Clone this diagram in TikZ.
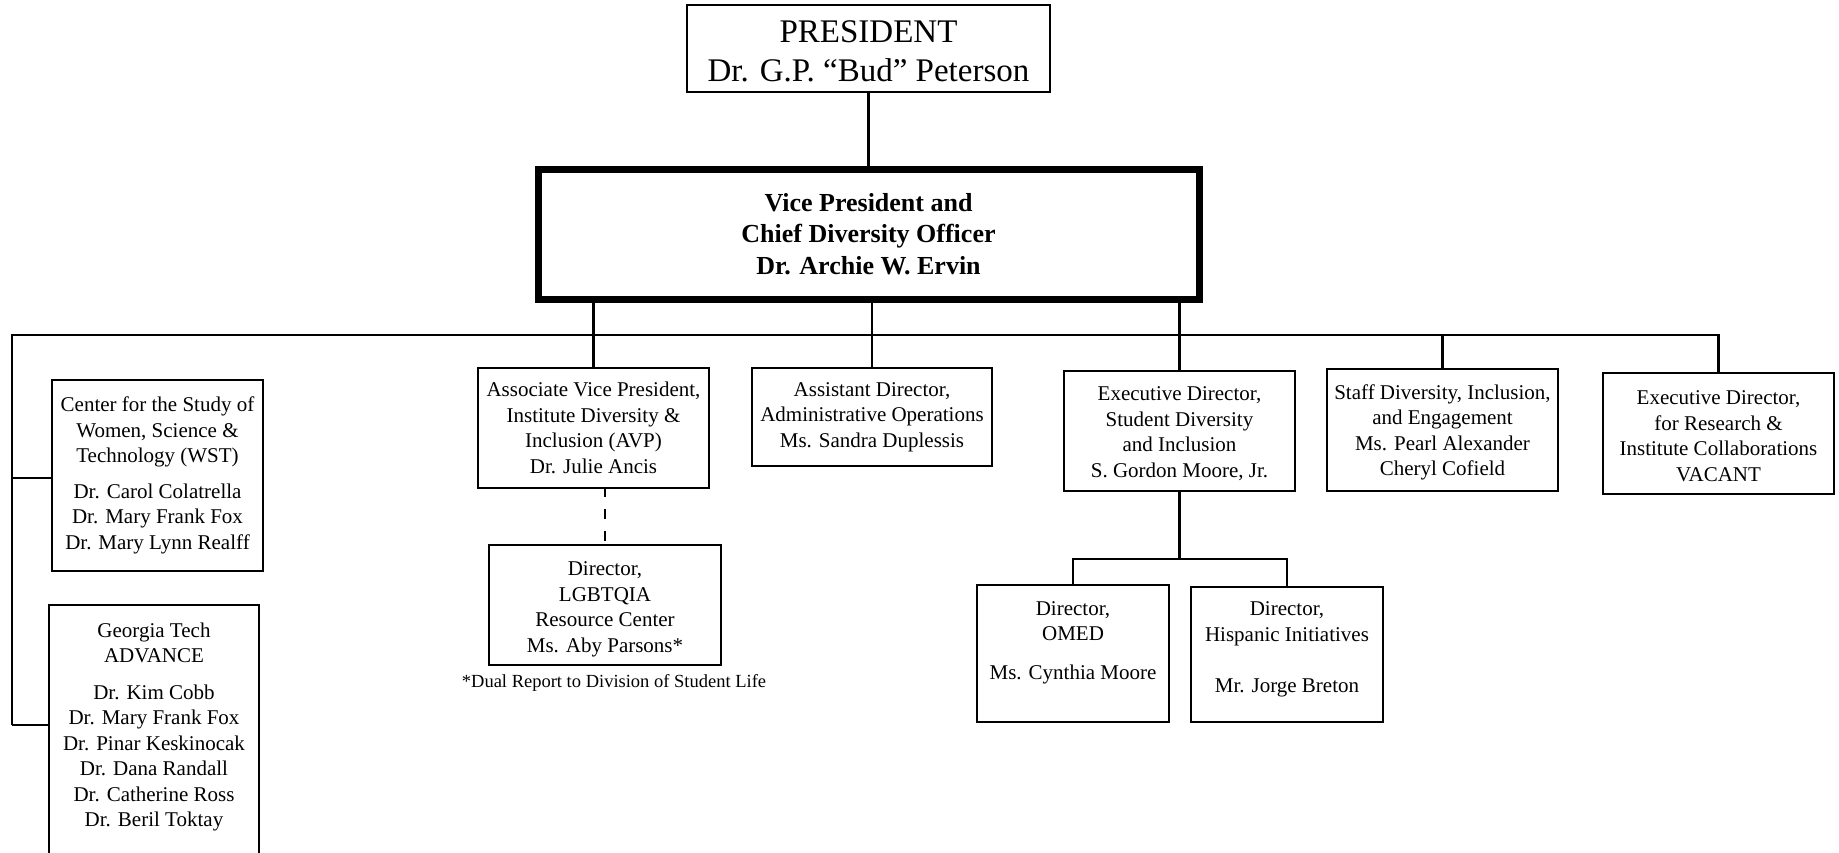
\documentclass[tikz,border=0pt]{standalone}
\usepackage{fontspec}
\setmainfont{Liberation Serif}
\newcommand{\uptop}[1]{\rule{0pt}{#1}}
\begin{document}
\begin{tikzpicture}[x=1pt,y=-1pt,
  box/.style={draw, line width=2.5pt, inner sep=0pt, align=center, font=\fontsize{21}{25.5}\selectfont},
  conn/.style={line width=2.5pt},
  dashconn/.style={line width=2.5pt, dash pattern=on 10pt off 12pt, dash phase=2pt}]
\useasboundingbox (0,0) rectangle (1839,852);
\clip (0,0) rectangle (1839,852);

\node[box, minimum width=363, minimum height=87, font=\fontsize{33}{39}\selectfont] (pres) at (868.5,48.5) {\uptop{28pt}PRESIDENT\\Dr. G.P. “Bud” Peterson};
\node[box, line width=7pt, minimum width=661, minimum height=130, font=\bfseries\fontsize{26}{31.7}\selectfont] (vp) at (868.5,234) {Vice President and\\Chief Diversity Officer\\Dr. Archie W. Ervin};

\node[box, minimum width=211, minimum height=191] (wst) at (157.5,475.5) {Center for the Study of\\Women, Science \&\\Technology (WST)\\[10pt]Dr. Carol Colatrella\\Dr. Mary Frank Fox\\Dr. Mary Lynn Realff};
\node[box, minimum width=210, minimum height=275] (adv) at (154,742.5) {Georgia Tech\\ADVANCE\\[11pt]Dr. Kim Cobb\\Dr. Mary Frank Fox\\Dr. Pinar Keskinocak\\Dr. Dana Randall\\Dr. Catherine Ross\\Dr. Beril Toktay\\[10pt]\mbox{}};

\node[box, minimum width=231, minimum height=120] (avp) at (593.5,428) {Associate Vice President,\\Institute Diversity \&\\Inclusion (AVP)\\Dr. Julie Ancis};
\node[box, minimum width=232, minimum height=120] (lgbt) at (605,605) {\uptop{22.5pt}Director,\\LGBTQIA\\Resource Center\\Ms. Aby Parsons*};
\node[font=\fontsize{18.5}{22}\selectfont, inner sep=0pt] (note) at (614,683) {*Dual Report to Division of Student Life};

\node[box, minimum width=240, minimum height=98] (asst) at (872,417) {Assistant Director,\\Administrative Operations\\Ms. Sandra Duplessis};
\node[box, minimum width=231, minimum height=120] (exec) at (1179.5,431) {\uptop{19.5pt}Executive Director,\\Student Diversity\\and Inclusion\\S. Gordon Moore, Jr.};
\node[box, minimum width=192, minimum height=137] (omed) at (1073,653.5) {Director,\\OMED\\[13.5pt]Ms. Cynthia Moore\\\mbox{}};
\node[box, minimum width=192, minimum height=135] (hisp) at (1287,654.5) {Director,\\Hispanic Initiatives\\[26pt]Mr. Jorge Breton\\[-11.5pt]\mbox{}};
\node[box, minimum width=231, minimum height=122] (staff) at (1442.5,430) {\uptop{19.5pt}Staff Diversity, Inclusion,\\and Engagement\\Ms. Pearl Alexander\\Cheryl Cofield};
\node[box, minimum width=231, minimum height=121] (research) at (1718.5,433.5) {\uptop{19.5pt}Executive Director,\\for Research \&\\Institute Collaborations\\VACANT};

\coordinate (busL) at (12,335);
\coordinate (wstjoin) at (12,478);
\coordinate (advjoin) at (12,725);
\coordinate (subbar) at (1180,559);

\draw[conn] (pres.south) -- (vp.north);
\draw[conn] (advjoin) -- (busL) -- (research.north |- busL) -- (research.north);
\draw[conn] (wstjoin) -- (wstjoin -| wst.west);
\draw[conn] (advjoin) -- (advjoin -| adv.west);
\draw[conn] (vp.south -| avp.north) -- (avp.north);
\draw[conn] (vp.south -| asst.north) -- (asst.north);
\draw[conn] (vp.south -| exec.north) -- (exec.north);
\draw[conn] (staff.north |- busL) -- (staff.north);
\draw[dashconn] (lgbt.north |- avp.south) -- (lgbt.north);
\draw[conn] (exec.south) -- (exec.south |- subbar);
\draw[conn] (omed.north) -- (omed.north |- subbar) -- (hisp.north |- subbar) -- (hisp.north);
\end{tikzpicture}
\end{document}
